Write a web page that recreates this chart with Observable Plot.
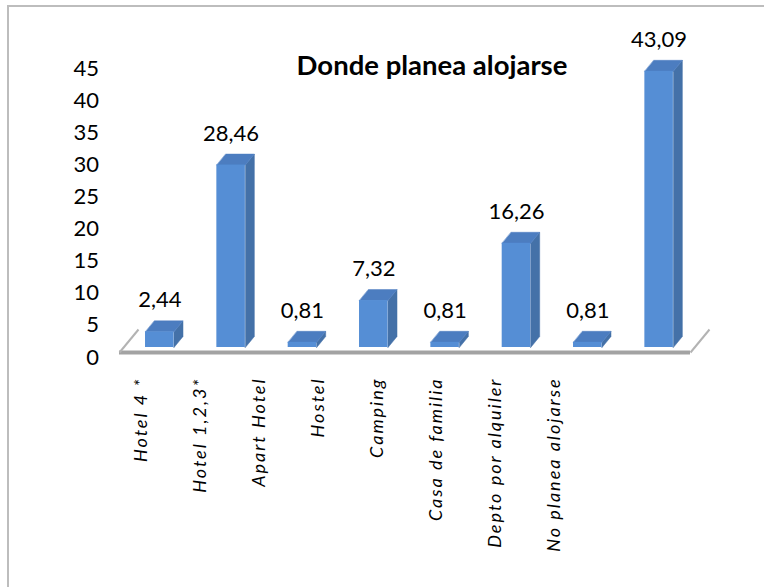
<!DOCTYPE html>
<html>
<head>
<meta charset="utf-8">
<script src="https://cdn.jsdelivr.net/npm/d3@7"></script>
<script src="https://cdn.jsdelivr.net/npm/@observablehq/plot@0.6"></script>
<style>
  html, body { margin: 0; padding: 0; background: #fff; }
  #wrap { position: relative; width: 764px; height: 587px; overflow: hidden; }
  #border { position: absolute; left: 7px; top: 5px; width: 800px; height: 640px;
            border-top: 2px solid #bdbdbd; border-left: 2px solid #bdbdbd; }
  #wrap svg { position: absolute; left: 0; top: 0; }
  .xlab text { letter-spacing: 2px; }
  #title { position: absolute; left: 432px; top: 51px; transform: translateX(-50%);
           font-family: Lato, sans-serif; font-weight: bold; font-size: 27.5px; line-height: 27.5px;
           white-space: nowrap; color: #000; }
</style>
</head>
<body>
<div id="wrap">
  <div id="border"></div>
</div>
<script>
// ---- data ----
const categories = ["Hotel 4 *", "Hotel 1,2,3*", "Apart Hotel", "Hostel", "Camping", "Casa de familia", "Depto por alquiler", "No planea alojarse"];
const values = [2.44, 28.46, 0.81, 7.32, 0.81, 16.26, 0.81, 43.09];
const yTicks = [0, 5, 10, 15, 20, 25, 30, 35, 40, 45];
const titleText = "Donde planea alojarse";

// ---- layout ----
const W = 764, H = 587;
const mL = 119, mR = 74, mT = 58.55, mB = 240;
const xDomain = [-0.5645, 7.44];
const yDomain = [0, 45];
const kx = (W - mL - mR) / (xDomain[1] - xDomain[0]);
const ky = (H - mT - mB) / (yDomain[1] - yDomain[0]);
const half = 14.25 / kx;     // half bar width
const dX = 9 / kx, dY = 11 / ky;   // bar depth
const fX = 19 / kx, fY = 23 / ky;  // floor depth

const data = categories.map((c, i) => ({c, i, v: values[i]}));
const topPts = [], sidePts = [];
data.forEach(d => {
  const a = d.i - half, b = d.i + half;
  topPts.push({k: d.i, x: a, y: d.v}, {k: d.i, x: b, y: d.v}, {k: d.i, x: b + dX, y: d.v + dY}, {k: d.i, x: a + dX, y: d.v + dY});
  sidePts.push({k: d.i, x: b, y: 0}, {k: d.i, x: b + dX, y: dY}, {k: d.i, x: b + dX, y: d.v + dY}, {k: d.i, x: b, y: d.v});
});
const fmt = v => v.toFixed(2).replace(".", ",");

const main = Plot.plot({
  width: W, height: H,
  marginLeft: mL, marginRight: mR, marginTop: mT, marginBottom: mB,
  style: {background: "transparent", overflow: "visible"},
  x: {type: "linear", domain: xDomain, axis: null},
  y: {domain: yDomain, axis: null},
  marks: [
    // floor
    Plot.ruleY([0], {dy: 5, stroke: "#a3a3a3", strokeWidth: 4}),
    Plot.link([xDomain[0], xDomain[1]], {x1: d => d, y1: 0, x2: d => d + fX, y2: fY, dy: 5, stroke: "#b3b3b3", strokeWidth: 2}),
    // bars
    Plot.line(sidePts, {x: "x", y: "y", z: "k", fill: "#4471a8", stroke: "#4471a8", strokeWidth: 0.5, curve: "linear-closed"}),
    Plot.line(topPts, {x: "x", y: "y", z: "k", fill: "#4c7dc0", stroke: "#4c7dc0", strokeWidth: 0.5, curve: "linear-closed"}),
    Plot.rectY(data, {x1: d => d.i - half, x2: d => d.i + half, y: "v", fill: "#558ed5"}),
    // value labels
    Plot.text(data, {x: "i", y: "v", text: d => fmt(d.v), dy: -31.5, fontSize: 22, fontFamily: "Lato, sans-serif", fill: "#000"}),
    // y tick labels
    Plot.text(yTicks, {y: d => d, frameAnchor: "left", dx: -20.5, dy: 10, textAnchor: "end", text: d => String(d), fontSize: 22, fontFamily: "Lato, sans-serif", fill: "#000"})
  ]
});

const labels = Plot.plot({
  width: W, height: H,
  className: "xlab",
  marginLeft: 139, marginRight: 209, marginTop: 377, marginBottom: 0,
  style: {background: "transparent", overflow: "visible"},
  x: {type: "point", domain: categories, padding: 0, axis: null},
  y: {axis: null},
  marks: [
    Plot.text(categories, {x: d => d, frameAnchor: "top", rotate: -90, textAnchor: "end", lineAnchor: "middle",
      text: d => d, fontSize: 18, fontStyle: "italic", fontFamily: "Lato, sans-serif", fill: "#000"})
  ]
});
labels.classList.add("xlab");

const wrap = document.getElementById("wrap");
wrap.appendChild(main);
wrap.appendChild(labels);
const t = document.createElement("div");
t.id = "title";
t.textContent = titleText;
wrap.appendChild(t);
</script>
</body>
</html>
